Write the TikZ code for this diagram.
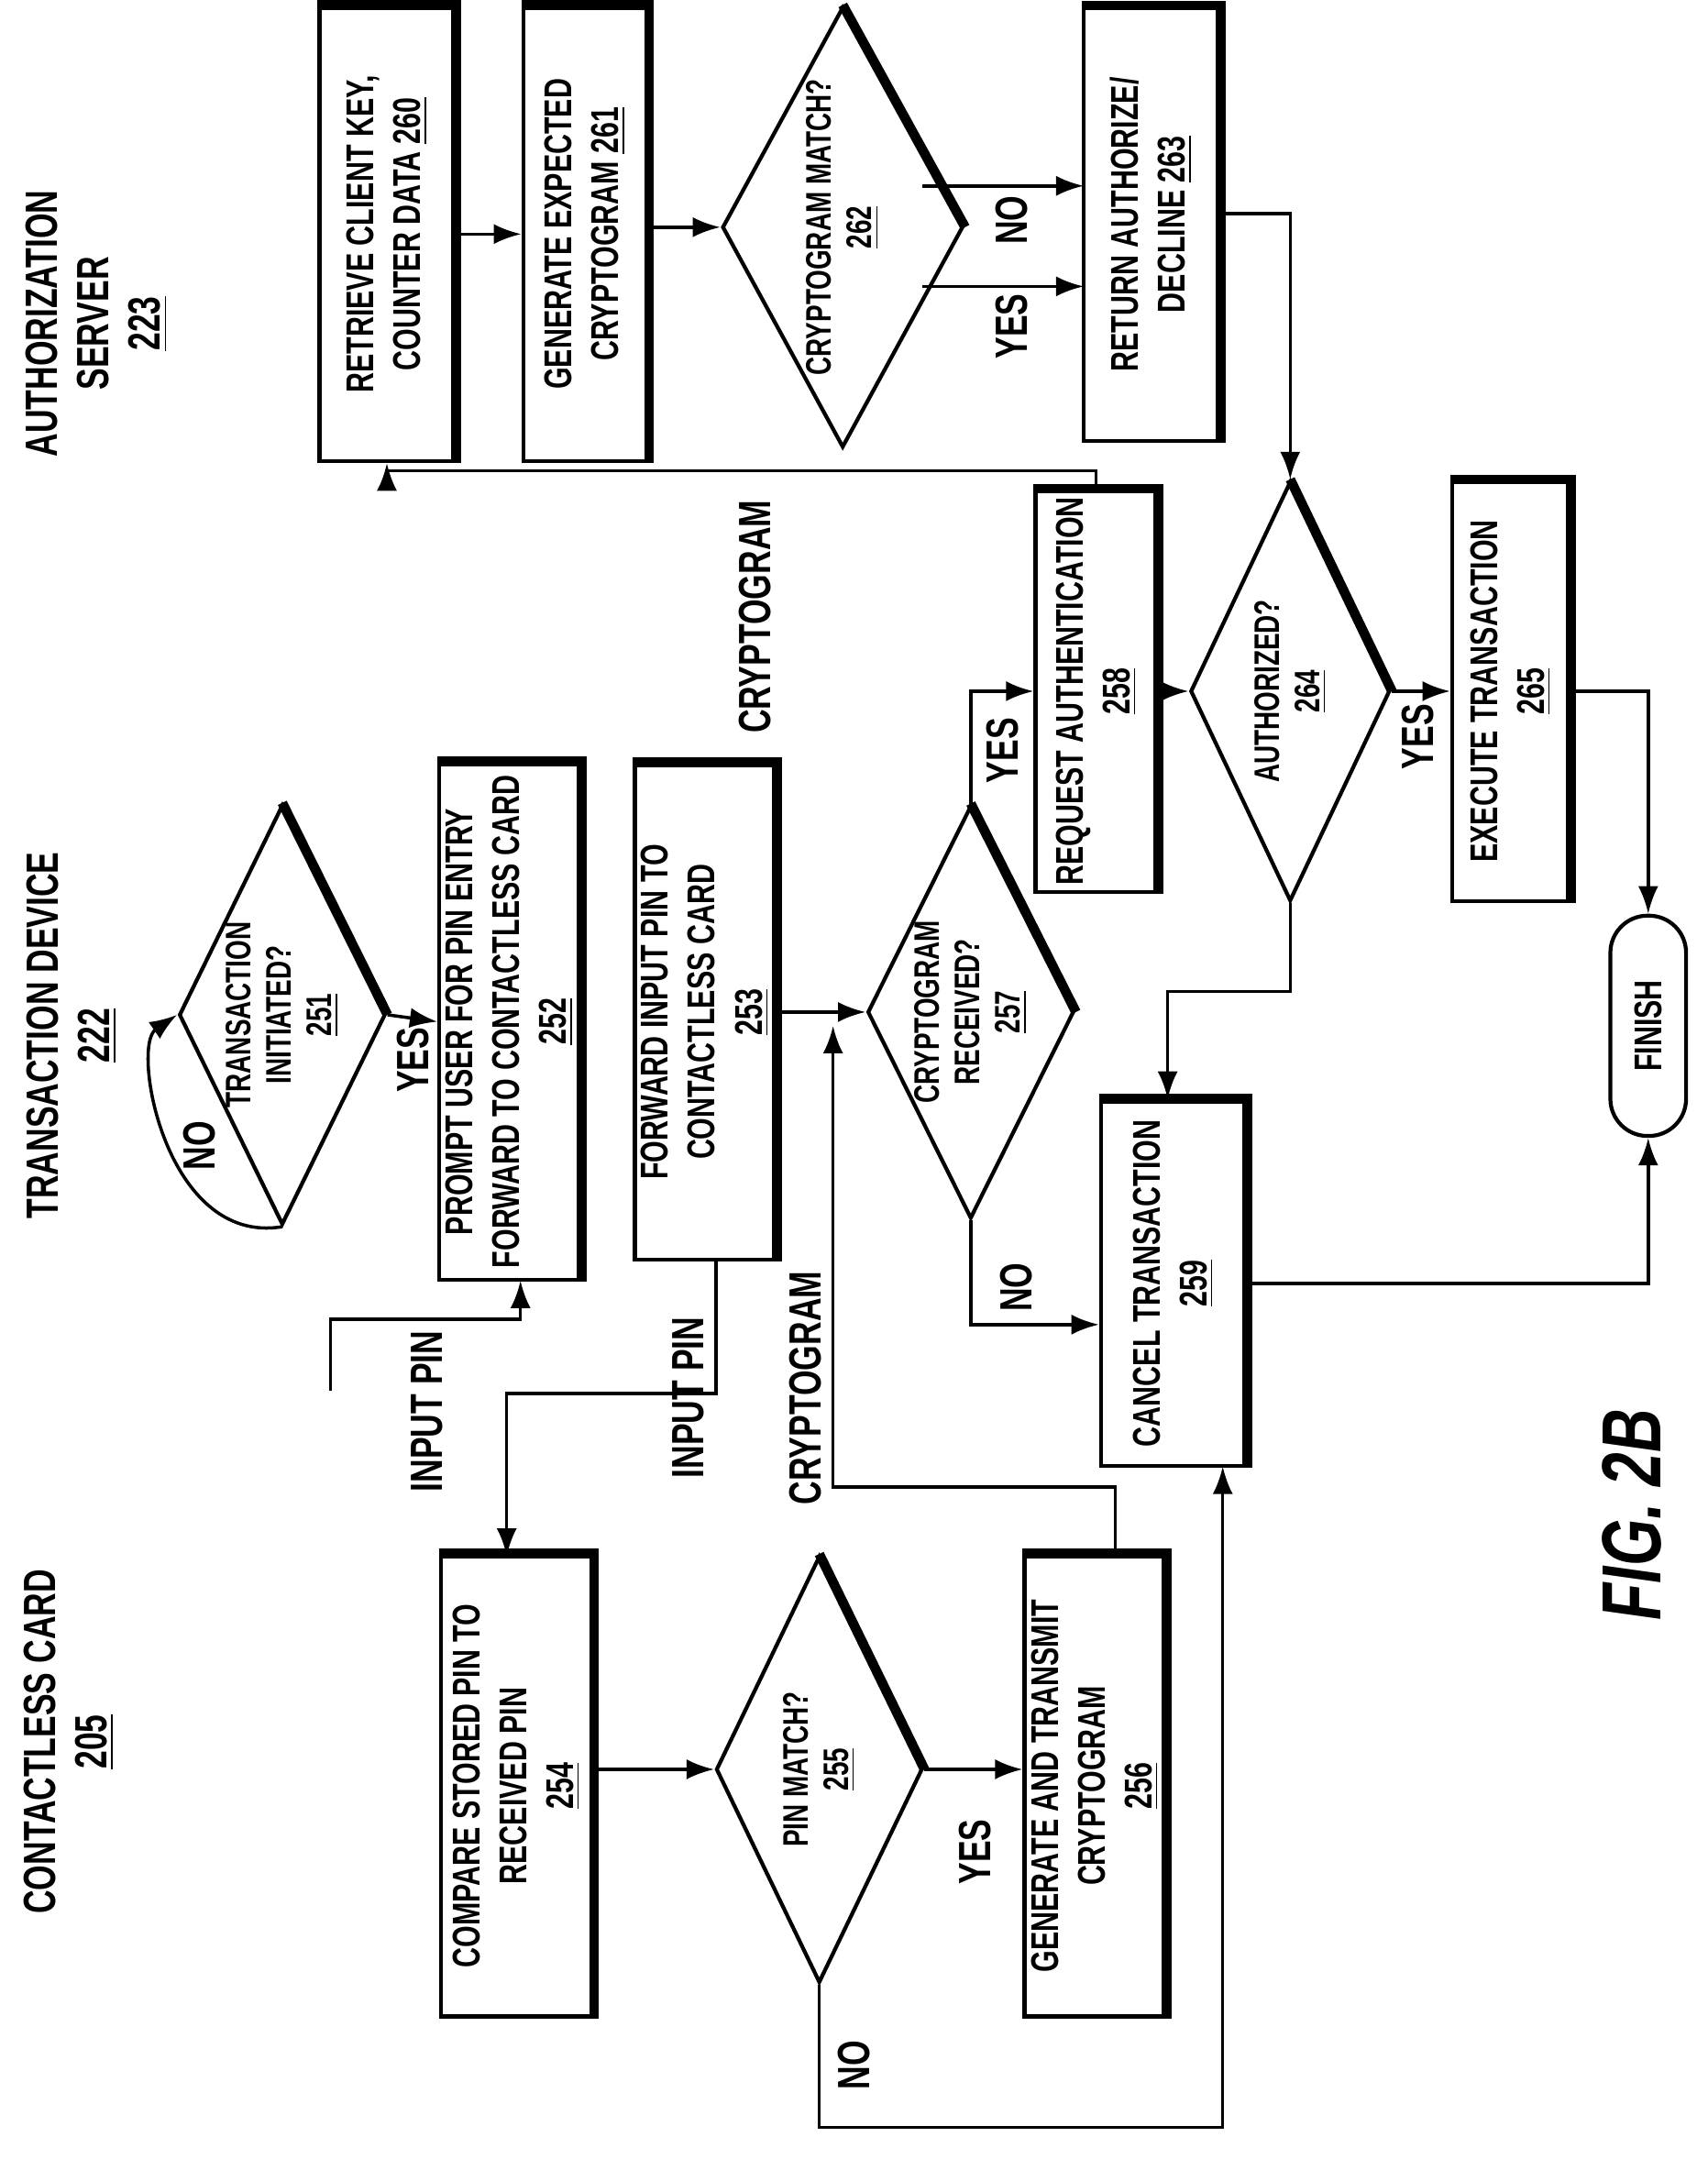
\documentclass[tikz,border=0pt]{standalone}
\usepackage{fontspec}
\setmainfont{Liberation Sans}[FakeStretch=0.72]
\usetikzlibrary{shapes.geometric,arrows.meta}
\begin{document}
\begin{tikzpicture}[x=0.015cm,y=-0.015cm,
    font=\fontsize{12}{14.5}\selectfont\bfseries,
    every node/.style={rotate=90, align=center},
    box/.style={draw, line width=1.2pt, inner sep=2pt},
    dia/.style={draw, diamond, aspect=1.9, line width=1.2pt, inner sep=-4pt,
      font=\fontsize{11}{12.5}\selectfont\bfseries},
    lbl/.style={font=\fontsize{14}{16}\selectfont\bfseries},
    line/.style={line width=1pt},
    arr/.style={line width=1pt, -{Latex[length=3mm,width=2.2mm]}}]
    \useasboundingbox (0,0) rectangle (1240,1568);

    % Lane headers
    \node[lbl] (hsrv) at (70,235) {AUTHORIZATION\\SERVER\\\underline{223}};
    \node[lbl] (hdev) at (52,752) {TRANSACTION DEVICE\\\underline{222}};
    \node[lbl] (hcard) at (50,1265) {CONTACTLESS CARD\\\underline{205}};
    \node[font=\fontsize{26}{28}\selectfont\bfseries\itshape] (fig) at (1185,1100) {FIG. 2B};

    % Authorization server
    \node[box, minimum width=330*0.015cm, minimum height=98*0.015cm] (n260) at (281,170) {RETRIEVE CLIENT KEY,\\COUNTER DATA \underline{260}};
    \node[box, minimum width=330*0.015cm, minimum height=90*0.015cm] (n261) at (425,170) {GENERATE EXPECTED\\CRYPTOGRAM \underline{261}};
    \node[dia, minimum width=320*0.015cm, minimum height=175*0.015cm] (n262) at (612,165) {CRYPTOGRAM MATCH?\\\underline{262}};
    \node[box, minimum width=315*0.015cm, minimum height=98*0.015cm] (n263) at (836,163) {RETURN AUTHORIZE/\\DECLINE \underline{263}};

    % Transaction device
    \node[dia, minimum width=305*0.015cm, minimum height=150*0.015cm] (n251) at (205,737) {TRANSACTION\\INITIATED?\\\underline{251}};
    \node[box, minimum width=375*0.015cm, minimum height=90*0.015cm] (n252) at (370,742) {PROMPT USER FOR PIN ENTRY\\FORWARD TO CONTACTLESS CARD\\\underline{252}};
    \node[box, minimum width=360*0.015cm, minimum height=85*0.015cm] (n253) at (512,735) {FORWARD INPUT PIN TO\\CONTACTLESS CARD\\\underline{253}};
    \node[dia, minimum width=300*0.015cm, minimum height=150*0.015cm] (n257) at (705,735) {CRYPTOGRAM\\RECEIVED?\\\underline{257}};
    \node[box, minimum width=275*0.015cm, minimum height=88*0.015cm] (n258) at (796,502) {REQUEST AUTHENTICATION\\\underline{258}};
    \node[dia, minimum width=305*0.015cm, minimum height=145*0.015cm] (n264) at (937,502) {AUTHORIZED?\\\underline{264}};
    \node[box, minimum width=305*0.015cm, minimum height=85*0.015cm] (n265) at (1097,502) {EXECUTE TRANSACTION\\\underline{265}};
    \node[box, minimum width=265*0.015cm, minimum height=105*0.015cm] (n259) at (852,932) {CANCEL TRANSACTION\\\underline{259}};
    \node[draw, line width=1.2pt, rounded corners=27*0.015cm, minimum width=160*0.015cm, minimum height=55*0.015cm] (fin) at (1197,745) {FINISH};

    % Contactless card
    \node[box, minimum width=335*0.015cm, minimum height=110*0.015cm] (n254) at (375,1297) {COMPARE STORED PIN TO\\RECEIVED PIN\\\underline{254}};
    \node[dia, minimum width=310*0.015cm, minimum height=150*0.015cm] (n255) at (595,1285) {PIN MATCH?\\\underline{255}};
    \node[box, minimum width=335*0.015cm, minimum height=90*0.015cm] (n256) at (795,1297) {GENERATE AND TRANSMIT\\CRYPTOGRAM\\\underline{256}};

    % Heavy top and right edges
    \foreach \n in {n260, n261, n263, n252, n253, n258, n265, n259, n254, n256} {
      \draw[line width=3pt] (\n.north east) -- (\n.south east) -- (\n.south west);
    }
    \foreach \n in {n262, n251, n257, n264, n255} {
      \draw[line width=3pt] (\n.east) -- (\n.south);
    }

    % Connections
    \draw[arr] (n260.south) -- (n261.north);
    \draw[arr] (n261.south |- n262.north) -- (n262.north);
    \draw[arr] (670,135) -- (787,135);
    \draw[arr] (670,208) -- (787,208);
    \node[lbl] (lno1) at (735,160) {NO};
    \node[lbl] (lyes1) at (735,237) {YES};
    \draw[arr] (885,155) -| (n264.east);
    \draw[arr] (n264.south) -- (n265.north);
    \node[lbl] (lyes2) at (1030,535) {YES};
    \draw[arr] (n258.south) -- (n264.north);
    \draw[arr] (n258.east) -- ++(0,-13) -| (n260.west);
    \node[lbl] (lcry1) at (548,448) {CRYPTOGRAM};
    \draw[arr] (n264.west) |- (848,720) -- (n259.east -| 848,0);
    \draw[arr] (n257.east) |- (n258.north);
    \node[lbl] (lyes3) at (728,545) {YES};
    \draw[arr] (n257.west) |- (n259.north |- 0,962);
    \node[lbl] (lno2) at (738,935) {NO};
    \draw[arr] (n265.south) -| (fin.east);
    \draw[arr] (n259.south) -| (fin.west);
    \draw[arr] (n251.south) -- (n252.north);
    \node[lbl] (lyes4) at (300,770) {YES};
    \draw[arr] (n251.west) .. controls (120,905) and (95,760) .. (n251.north);
    \node[lbl] (lno3) at (145,832) {NO};
    \coordinate (pinin) at (240,1010);
    \draw[arr] (pinin) |- (378,958) -- (378,930);
    \node[lbl] (lpin1) at (310,1025) {INPUT PIN};
    \draw[arr] (n253.south) -- (n257.north);
    \draw[arr] (810,1130) |- (605,1080) -- (605,745);
    \node[lbl] (lcry2) at (585,1008) {CRYPTOGRAM};
    \draw[arr] (520,915) |- (368,1012) -- (368,1130);
    \node[lbl] (lpin2) at (500,1015) {INPUT PIN};
    \draw[arr] (n254.south |- n255.north) -- (n255.north);
    \draw[arr] (n255.south) -- (n256.north |- n255.south);
    \node[lbl] (lyes5) at (708,1345) {YES};
    \draw[arr] (n255.west) -- (595,1545) -| (888,1065);
    \node[lbl] (lno4) at (620,1500) {NO};
\end{tikzpicture}
\end{document}
